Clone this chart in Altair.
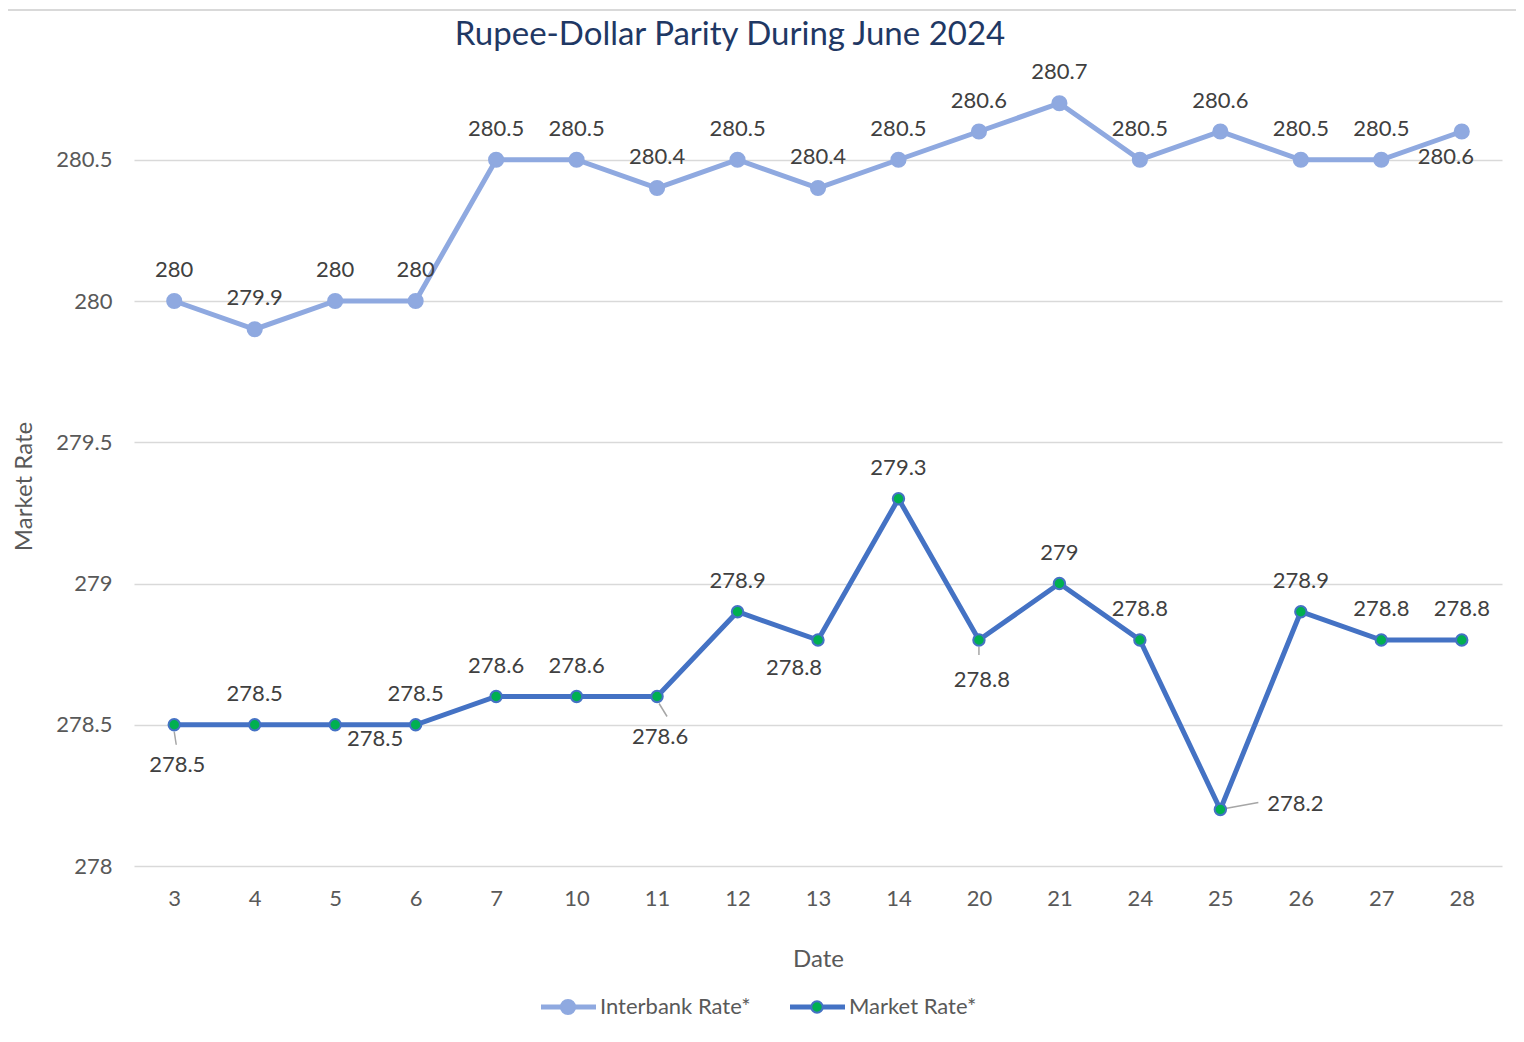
import altair as alt
import pandas as pd

title_text = "Rupee-Dollar Parity During June 2024"
dates = ["3", "4", "5", "6", "7", "10", "11", "12", "13", "14", "20", "21", "24", "25", "26", "27", "28"]
interbank = [280.0, 279.9, 280.0, 280.0, 280.5, 280.5, 280.4, 280.5, 280.4, 280.5, 280.6, 280.7, 280.5, 280.6, 280.5, 280.5, 280.6]
market = [278.5, 278.5, 278.5, 278.5, 278.6, 278.6, 278.6, 278.9, 278.8, 279.3, 278.8, 279.0, 278.8, 278.2, 278.9, 278.8, 278.8]

# label placement per point (style only)
interbank_place = ["t"] * 16 + ["bl"]
market_place = ["b", "t", "br", "t", "t", "t", "b", "t", "bl", "t", "b", "t", "t", "r", "t", "t", "t"]

series_names = ["Interbank Rate*", "Market Rate*"]
y_ticks = [278, 278.5, 279, 279.5, 280, 280.5]

FONT = "Lato"
IB_COLOR = "#8FA9E0"
MK_COLOR = "#4472C4"
PT_GREEN = "#00B050"
LABEL_COLOR = "#404040"
AXIS_COLOR = "#595959"
LEADER = "#A6A6A6"

ib = pd.DataFrame({"Date": dates, "Rate": interbank, "place": interbank_place})
mk = pd.DataFrame({"Date": dates, "Rate": market, "place": market_place})

x_enc = alt.X("Date:O", sort=dates, scale=alt.Scale(type="point", padding=0.5),
              axis=alt.Axis(title="Date", labelAngle=0, labelFont=FONT, labelFontSize=22,
                            labelColor=AXIS_COLOR, titleFont=FONT, titleFontSize=24,
                            titleColor=AXIS_COLOR, titleFontWeight="normal", titlePadding=38,
                            labelPadding=22, ticks=False, domain=False, grid=False))
y_enc = alt.Y("Rate:Q", scale=alt.Scale(domain=[278, 280.8], nice=False, zero=False),
              axis=alt.Axis(title="Market Rate", values=y_ticks, labelFont=FONT, labelFontSize=22,
                            labelColor=AXIS_COLOR, titleFont=FONT, titleFontSize=24,
                            titleColor=AXIS_COLOR, titleFontWeight="normal", titlePadding=22,
                            titleY=411, titleX=-110, titleAlign="center", titleBaseline="middle",
                            labelPadding=22, ticks=False, domain=False, grid=True,
                            gridColor="#D9D9D9", gridWidth=1.5, format="~g"))

def series_layers(df, color, point_fill, point_stroke, point_size, offsets):
    base = alt.Chart(df).encode(x=x_enc, y=y_enc)
    line = base.mark_line(color=color, strokeWidth=5)
    pts = base.mark_point(filled=True, fill=point_fill, stroke=point_stroke, strokeWidth=2,
                          size=point_size, opacity=1)
    texts = []
    for key, (dx, dy) in offsets.items():
        texts.append(
            base.transform_filter(alt.datum.place == key)
            .mark_text(font=FONT, fontSize=22, color=LABEL_COLOR, dx=dx, dy=dy)
            .encode(text=alt.Text("Rate:Q", format="~g"))
        )
    return [line, pts] + texts

ib_offsets = {"t": (0, -31), "bl": (-16, 25)}
mk_offsets = {"t": (0, -31), "b": (3, 40), "br": (40, 14), "bl": (-24, 28), "r": (75, -6)}

# leader lines for displaced market labels: date -> (xOffset, yOffset, x2Offset, y2Offset)
leaders = {"3": (0, 7, 2, 20), "11": (2, 7, 10, 20), "20": (0, 7, 0, 15), "25": (5, -1, 38, -7)}
leader_layers = []
for d, (xo, yo, x2o, y2o) in leaders.items():
    leader_layers.append(
        alt.Chart(mk).transform_filter(alt.datum.Date == d)
        .mark_rule(color=LEADER, strokeWidth=1.5, xOffset=xo, yOffset=yo, x2Offset=x2o, y2Offset=y2o)
        .encode(x=x_enc, y=y_enc, x2="Date:O", y2="Rate:Q")
    )

one = pd.DataFrame({"k": [0]})
LEG_Y = 932
legend_layers = []
for name, x0, color, fill, stroke, size in [
    (series_names[0], 407, IB_COLOR, IB_COLOR, IB_COLOR, 200),
    (series_names[1], 656, MK_COLOR, PT_GREEN, MK_COLOR, 130),
]:
    legend_layers.append(alt.Chart(one).mark_rule(color=color, strokeWidth=5).encode(
        x=alt.value(x0), x2=alt.value(x0 + 55), y=alt.value(LEG_Y)))
    legend_layers.append(alt.Chart(one).mark_point(filled=True, fill=fill, stroke=stroke,
                                                   strokeWidth=2, size=size, opacity=1).encode(
        x=alt.value(x0 + 27), y=alt.value(LEG_Y)))
    legend_layers.append(alt.Chart(pd.DataFrame({"t": [name]})).mark_text(
        font=FONT, fontSize=22, color=AXIS_COLOR, align="left", baseline="middle").encode(
        x=alt.value(x0 + 59), y=alt.value(LEG_Y), text="t:N"))

# thin border line at the very top of the chart area
top_line = alt.Chart(one).mark_rule(color="#D9D9D9", strokeWidth=2).encode(
    x=alt.value(-130), x2=alt.value(1390), y=alt.value(-65))

title_layer = alt.Chart(pd.DataFrame({"t": [title_text]})).mark_text(
    font=FONT, fontSize=33, color="#1F3864", align="center", baseline="middle").encode(
    x=alt.value(596), y=alt.value(-40), text="t:N")

chart = alt.layer(
    top_line,
    title_layer,
    *series_layers(ib, IB_COLOR, IB_COLOR, IB_COLOR, 200, ib_offsets),
    *leader_layers,
    *series_layers(mk, MK_COLOR, PT_GREEN, MK_COLOR, 130, mk_offsets),
    *legend_layers,
).properties(
    width=1368, height=791,
    autosize=alt.AutoSizeParams(type="none"),
    padding={"left": 126, "top": 67, "right": 14, "bottom": 160},
    background="white",
).configure_view(strokeWidth=0, stroke=None)

chart.save("out.html", embed_options={"renderer": "svg", "actions": False})
